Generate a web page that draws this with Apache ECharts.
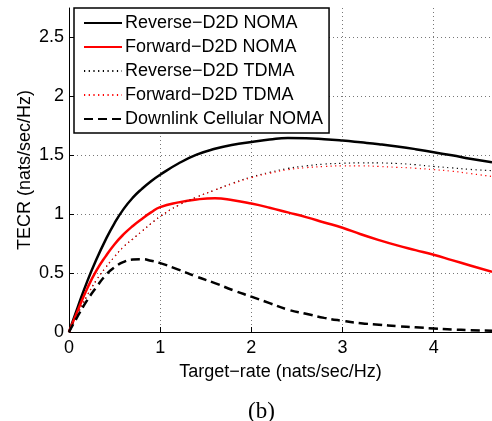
<!DOCTYPE html>
<html><head><meta charset="utf-8">
<script src="https://cdn.jsdelivr.net/npm/echarts@6/dist/echarts.min.js"></script>
<style>html,body{margin:0;padding:0;background:#fff}#c{width:492px;height:421px}</style>
</head><body><div id="c"></div>
<script>
const xs = [0,0.1,0.2,0.3,0.4,0.5,0.6,0.7,0.8,0.9,1.0,1.2,1.4,1.6,1.8,2.0,2.2,2.4,2.6,2.8,3.0,3.2,3.4,3.6,3.8,4.0,4.2,4.4,4.64];
const reverseNOMA = [0,0.22,0.43,0.615,0.78,0.925,1.045,1.14,1.215,1.28,1.335,1.43,1.505,1.555,1.59,1.612,1.633,1.646,1.645,1.637,1.625,1.61,1.594,1.575,1.552,1.525,1.5,1.47,1.44];
const forwardNOMA = [0,0.19,0.37,0.52,0.64,0.745,0.83,0.9,0.96,1.015,1.06,1.10,1.125,1.135,1.118,1.09,1.055,1.015,0.975,0.93,0.885,0.83,0.78,0.735,0.695,0.655,0.61,0.565,0.51];
const reverseTDMA = [0,0.16,0.31,0.44,0.545,0.64,0.725,0.79,0.855,0.92,0.98,1.075,1.145,1.205,1.265,1.315,1.355,1.388,1.41,1.425,1.432,1.436,1.435,1.43,1.42,1.405,1.393,1.38,1.37];
const forwardTDMA = [0,0.16,0.31,0.44,0.545,0.64,0.725,0.79,0.855,0.92,0.98,1.075,1.145,1.205,1.26,1.31,1.348,1.378,1.395,1.405,1.41,1.41,1.405,1.398,1.39,1.378,1.365,1.345,1.32];
const downlinkNOMA = [0,0.14,0.27,0.38,0.48,0.55,0.595,0.615,0.618,0.605,0.585,0.53,0.47,0.415,0.355,0.30,0.245,0.19,0.155,0.12,0.095,0.075,0.062,0.05,0.04,0.03,0.022,0.016,0.011];
const seriesNames = ['Reverse\u2212D2D NOMA','Forward\u2212D2D NOMA','Reverse\u2212D2D TDMA','Forward\u2212D2D TDMA','Downlink Cellular NOMA'];
const xTicks = [0,1,2,3,4];
const yTicks = [0,0.5,1,1.5,2,2.5];
const xName = 'Target\u2212rate (nats/sec/Hz)';
const yName = 'TECR (nats/sec/Hz)';
const caption = '(b)';

const pair = ys => xs.map((x,i)=>[x, ys[i]]);
const F = 'Liberation Sans, Arial, sans-serif';
const chart = echarts.init(document.getElementById('c'), null, {renderer:'canvas'});
const mk = (name, ys, color, width, type) => ({
  name, type:'line', data: pair(ys), symbol:'none', smooth:0.5,
  lineStyle:{color, width, type}, itemStyle:{color}, z: 3
});
chart.setOption({
  animation:false,
  backgroundColor:'#fff',
  title:{text:caption, left:243, top:395, textStyle:{fontFamily:'Liberation Serif, Times New Roman, serif', fontSize:23, fontWeight:'normal', color:'#000'}},
  grid:{left:69, top:8, right:0, bottom:89, containLabel:false},
  legend:{
    orient:'vertical', left:74, top:8,
    backgroundColor:'#fff', borderColor:'#000', borderWidth:1.5, borderRadius:0,
    padding:[6,6,5,9], itemGap:6, itemWidth:38, itemHeight:14,
    itemStyle:{opacity:0, borderWidth:0},
    textStyle:{fontFamily:F, fontSize:18, lineHeight:18, color:'#000', padding:[0,0,0,-2]},
    data: seriesNames.map(n=>({name:n}))
  },
  xAxis:{
    type:'value', min:0, max:4.64, interval:1,
    name:xName, nameLocation:'middle', nameGap:31, nameMoveOverlap:false,
    nameTextStyle:{fontFamily:F, fontSize:18, color:'#000'},
    axisLine:{show:true, onZero:false, lineStyle:{color:'#000', width:1}},
    axisTick:{show:true, inside:true, length:5, lineStyle:{color:'#000'}, customValues:xTicks},
    axisLabel:{fontFamily:F, fontSize:18, color:'#000', margin:7, customValues:xTicks},
    splitLine:{show:true, lineStyle:{color:'#777', width:1, type:[1,3]}}
  },
  yAxis:{
    type:'value', min:0, max:2.75, interval:0.5,
    name:yName, nameLocation:'middle', nameGap:35, nameMoveOverlap:false,
    nameTextStyle:{fontFamily:F, fontSize:18, color:'#000'},
    axisLine:{show:true, onZero:false, lineStyle:{color:'#000', width:1}},
    axisTick:{show:true, inside:true, length:5, lineStyle:{color:'#000'}, customValues:yTicks},
    axisLabel:{fontFamily:F, fontSize:18, color:'#000', margin:5, customValues:yTicks},
    splitLine:{show:true, lineStyle:{color:'#777', width:1, type:[1,3]}}
  },
  series:[
    mk(seriesNames[0], reverseNOMA, '#000', 2.5, 'solid'),
    mk(seriesNames[1], forwardNOMA, '#ff0000', 2.5, 'solid'),
    mk(seriesNames[2], reverseTDMA, '#000', 1.2, [1.2,3.5]),
    mk(seriesNames[3], forwardTDMA, '#ff0000', 1.2, [1.2,3.5]),
    mk(seriesNames[4], downlinkNOMA, '#000', 2.5, [9,5])
  ]
});
</script></body></html>
